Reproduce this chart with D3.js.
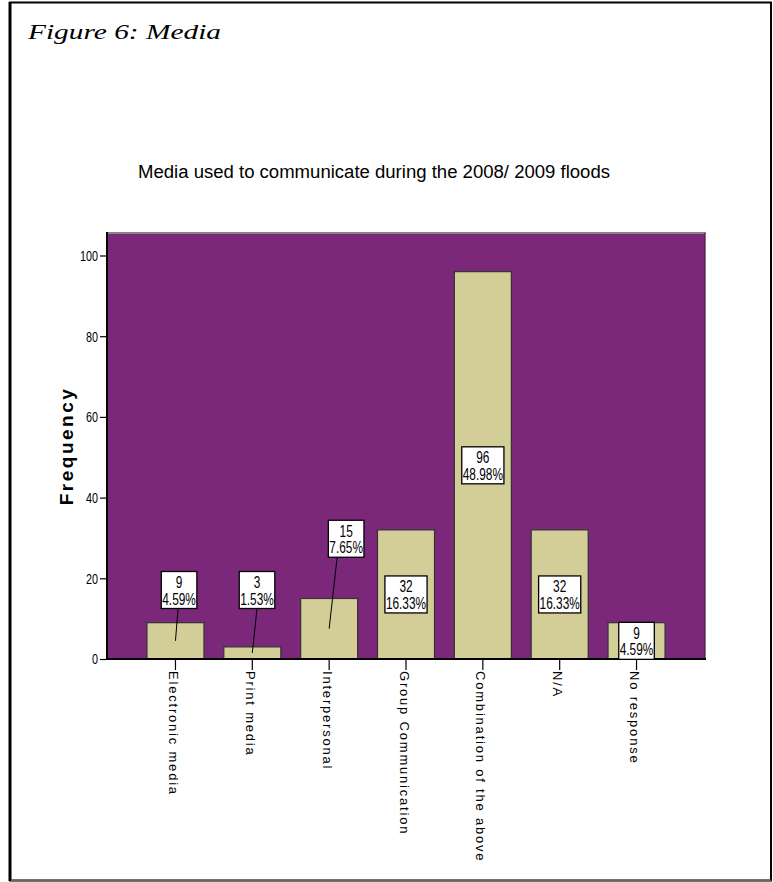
<!DOCTYPE html>
<html>
<head>
<meta charset="utf-8">
<script src="https://cdn.jsdelivr.net/npm/d3@7"></script>
<style>
  body { margin: 0; background: #fff; }
</style>
</head>
<body>
<svg width="773" height="882"></svg>
<script>
const categories = ['Electronic media', 'Print media', 'Interpersonal', 'Group Communication', 'Combination of the above', 'N/A', 'No response']
const frequencies = [9, 3, 15, 32, 96, 32, 9]
const percents = ['4.59%', '1.53%', '7.65%', '16.33%', '48.98%', '16.33%', '4.59%']
const yTicks = [0, 20, 40, 60, 80, 100]

const data = categories.map((c, i) => ({ category: c, value: frequencies[i], pct: percents[i] }))

// labels that SPSS pulled out of the bar (box centre in data units, x shifts in px)
const callouts = {
  'Electronic media': { at: 17.1, dx: 3.6, lineDx: -1 },
  'Print media': { at: 17.1, dx: 4.7, lineDx: 0 },
  'Interpersonal': { at: 29.8, dx: 17, lineDx: -9 }
}

const svg = d3.select('svg')
const sans = '"Liberation Sans", Arial, sans-serif'

// SPSS used a narrow face for numbers, squeeze the regular one
const condense = (sel, k) => sel.each(function () {
  const w = this.getComputedTextLength()
  d3.select(this).attr('textLength', w * k).attr('lengthAdjust', 'spacingAndGlyphs')
})

const plot = { left: 107, right: 705, top: 233, bottom: 659 }

// page frame
svg.append('rect')
  .attr('x', 10).attr('y', 2.5).attr('width', 761).attr('height', 878)
  .attr('fill', 'none').attr('stroke', '#000').attr('stroke-width', 2)
svg.append('line')
  .attr('x1', 10).attr('x2', 10).attr('y1', 2).attr('y2', 881)
  .attr('stroke', '#000').attr('stroke-width', 3)
svg.append('line')
  .attr('x1', 11).attr('x2', 771).attr('y1', 880.5).attr('y2', 880.5)
  .attr('stroke', '#666').attr('stroke-width', 2)

svg.append('text')
  .attr('x', 28).attr('y', 39)
  .attr('font-family', '"Liberation Serif", "Times New Roman", serif')
  .attr('font-style', 'italic')
  .attr('font-size', 22)
  .attr('textLength', 193).attr('lengthAdjust', 'spacingAndGlyphs')
  .text('Figure 6: Media')

svg.append('text')
  .attr('x', 138).attr('y', 178)
  .attr('font-family', sans)
  .attr('font-size', 18)
  .attr('textLength', 472).attr('lengthAdjust', 'spacingAndGlyphs')
  .text('Media used to communicate during the 2008/ 2009 floods')

const xScale = d3.scaleBand()
  .domain(categories)
  .range([plot.left, plot.right])
  .paddingInner(0.258)
  .paddingOuter(0.52)

const yScale = d3.scaleLinear()
  .domain([0, 100])
  .range([plot.bottom, 255.5])

// plot background
svg.append('rect')
  .attr('x', plot.left).attr('y', plot.top)
  .attr('width', plot.right - plot.left).attr('height', plot.bottom - plot.top)
  .attr('fill', '#7b287a')
svg.append('line')
  .attr('x1', plot.left).attr('x2', plot.right + 1).attr('y1', plot.top).attr('y2', plot.top)
  .attr('stroke', '#858585').attr('stroke-width', 2)
svg.append('line')
  .attr('x1', plot.right).attr('x2', plot.right).attr('y1', plot.top).attr('y2', plot.bottom)
  .attr('stroke', '#4a1a4a').attr('stroke-width', 1.2)

svg.append('g')
  .selectAll('rect')
  .data(data)
  .join('rect')
  .attr('x', d => xScale(d.category))
  .attr('y', d => yScale(d.value))
  .attr('width', xScale.bandwidth())
  .attr('height', d => yScale(0) - yScale(d.value))
  .attr('fill', '#d3ce97')
  .attr('stroke', '#333')
  .attr('stroke-width', 1.2)

// axes
const yAxis = svg.append('g')
  .attr('transform', `translate(${plot.left},0)`)
  .call(d3.axisLeft(yScale).tickValues(yTicks).tickSize(7).tickPadding(2))
yAxis.select('.domain').remove()
yAxis.selectAll('line').attr('stroke', '#000').attr('stroke-width', 1.2)
yAxis.selectAll('text')
  .attr('font-family', sans)
  .attr('font-size', 15)
  .attr('fill', '#000')
  .call(condense, 0.72)

const xAxis = svg.append('g')
  .attr('transform', `translate(0,${plot.bottom})`)
  .call(d3.axisBottom(xScale).tickSize(11).tickFormat(''))
xAxis.select('.domain').remove()
xAxis.selectAll('line').attr('stroke', '#000').attr('stroke-width', 1.2)
xAxis.selectAll('.tick')
  .append('text')
  .attr('transform', 'translate(0,12) rotate(90)')
  .attr('dy', '0.5em')
  .attr('text-anchor', 'start')
  .attr('fill', '#000')
  .attr('font-family', sans)
  .attr('font-size', 13)
  .attr('letter-spacing', 1.8)
  .text(d => d)

svg.append('line')
  .attr('x1', plot.left).attr('x2', plot.left).attr('y1', plot.top - 1).attr('y2', plot.bottom + 1)
  .attr('stroke', '#000').attr('stroke-width', 2)
svg.append('line')
  .attr('x1', plot.left - 1).attr('x2', plot.right + 1).attr('y1', plot.bottom).attr('y2', plot.bottom)
  .attr('stroke', '#000').attr('stroke-width', 2)

svg.append('text')
  .attr('transform', `translate(73,${(plot.top + plot.bottom) / 2}) rotate(-90)`)
  .attr('text-anchor', 'middle')
  .attr('font-family', sans)
  .attr('font-weight', 'bold')
  .attr('font-size', 19)
  .attr('letter-spacing', 2.5)
  .text('Frequency')

// value labels
const boxH = 37
const labels = svg.append('g')
data.forEach(d => {
  const cx = xScale(d.category) + xScale.bandwidth() / 2
  const co = callouts[d.category]
  const bx = co ? cx + co.dx : cx
  const by = co ? yScale(co.at) : yScale(d.value / 2)
  const top = by - boxH / 2

  if (co) {
    labels.append('line')
      .attr('x1', cx).attr('y1', yScale(d.value / 2))
      .attr('x2', bx + co.lineDx).attr('y2', top + boxH)
      .attr('stroke', '#000').attr('stroke-width', 1)
  }

  const g = labels.append('g')
  const rect = g.append('rect')
  const t1 = g.append('text')
    .attr('x', bx).attr('y', top + 16.5)
    .attr('text-anchor', 'middle')
    .attr('font-family', sans).attr('font-size', 16)
    .text(d.value)
    .call(condense, 0.74)
  const t2 = g.append('text')
    .attr('x', bx).attr('y', top + 33)
    .attr('text-anchor', 'middle')
    .attr('font-family', sans).attr('font-size', 16)
    .text(d.pct)
    .call(condense, 0.74)
  const w = Math.max(+t1.attr('textLength'), +t2.attr('textLength')) + 2
  rect.attr('x', bx - w / 2).attr('y', top)
    .attr('width', w).attr('height', boxH)
    .attr('fill', '#fff').attr('stroke', '#000').attr('stroke-width', 1.3)
})
</script>
</body>
</html>
